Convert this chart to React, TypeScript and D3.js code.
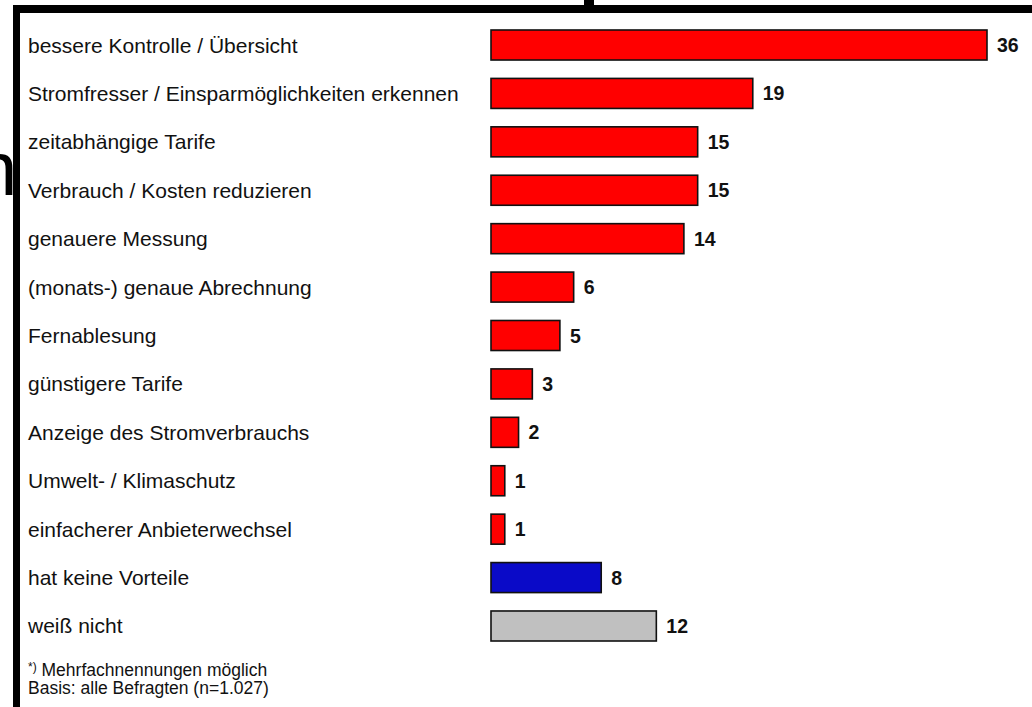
import React, { useEffect, useRef } from 'react'
import * as d3 from 'd3'

const categories = [
  'bessere Kontrolle / Übersicht',
  'Stromfresser / Einsparmöglichkeiten erkennen',
  'zeitabhängige Tarife',
  'Verbrauch / Kosten reduzieren',
  'genauere Messung',
  '(monats-) genaue Abrechnung',
  'Fernablesung',
  'günstigere Tarife',
  'Anzeige des Stromverbrauchs',
  'Umwelt- / Klimaschutz',
  'einfacherer Anbieterwechsel',
  'hat keine Vorteile',
  'weiß nicht',
]
const values = [36, 19, 15, 15, 14, 6, 5, 3, 2, 1, 1, 8, 12]
const kinds = ['pro', 'pro', 'pro', 'pro', 'pro', 'pro', 'pro', 'pro', 'pro', 'pro', 'pro', 'none', 'unknown']
const footnotes = ['Mehrfachnennungen möglich', 'Basis: alle Befragten (n=1.027)']

const W = 1032
const H = 707

export default function App() {
  const ref = useRef<SVGSVGElement>(null)

  useEffect(() => {
    const svg = d3.select(ref.current)
    svg.selectAll('*').remove()

    const font = '"Liberation Sans", Arial, sans-serif'

    // frame pieces of the original scan
    svg.append('rect').attr('x', 13).attr('y', 5).attr('width', W - 13).attr('height', 8).attr('fill', '#000')
    svg.append('rect').attr('x', 13).attr('y', 5).attr('width', 7).attr('height', H - 5).attr('fill', '#000')
    svg.append('rect').attr('x', 584).attr('y', 0).attr('width', 10).attr('height', 6).attr('fill', '#000')
    svg.append('text').attr('x', -25).attr('y', 195)
      .attr('font-family', font).attr('font-size', 76).attr('fill', '#000').text('n')

    const x = d3.scaleLinear().domain([0, 36]).range([491, 987])
    const y = d3.scaleBand<string>().domain(categories).range([20.8, 650.2])
      .paddingInner(0.38).paddingOuter(0.19)

    const color = d3.scaleOrdinal<string, string>()
      .domain(['pro', 'none', 'unknown'])
      .range(['#ff0000', '#0a0ac8', '#c0c0c0'])

    const rows = svg.selectAll('g.row')
      .data(categories)
      .enter()
      .append('g')
      .attr('class', 'row')

    rows.append('text')
      .attr('x', 28)
      .attr('y', d => y(d)! + y.bandwidth() / 2 + 7.5)
      .attr('font-family', font)
      .attr('font-size', 21)
      .attr('fill', '#111')
      .text(d => d)

    rows.append('rect')
      .attr('x', x(0))
      .attr('y', d => y(d)!)
      .attr('width', (d, i) => x(values[i]) - x(0))
      .attr('height', y.bandwidth())
      .attr('fill', (d, i) => color(kinds[i]))
      .attr('stroke', '#111')
      .attr('stroke-width', 1.6)

    rows.append('text')
      .attr('x', (d, i) => x(values[i]) + 10)
      .attr('y', d => y(d)! + y.bandwidth() / 2 + 7)
      .attr('font-family', font)
      .attr('font-size', 19.5)
      .attr('font-weight', 'bold')
      .attr('fill', '#111')
      .text((d, i) => values[i])

    const fn = svg.append('text').attr('x', 28).attr('y', 676)
      .attr('font-family', font).attr('font-size', 17.5).attr('fill', '#111')
    fn.append('tspan').attr('font-size', 12).attr('dy', -5).text('*)')
    fn.append('tspan').attr('dy', 5).text(' ' + footnotes[0])
    svg.append('text').attr('x', 28).attr('y', 694)
      .attr('font-family', font).attr('font-size', 17.5).attr('fill', '#111')
      .text(footnotes[1])
  }, [])

  return (
    <div style={{ position: 'absolute', left: 0, top: 0 }}>
      <svg ref={ref} width={W} height={H} style={{ display: 'block', background: '#fff' }}></svg>
    </div>
  )
}
